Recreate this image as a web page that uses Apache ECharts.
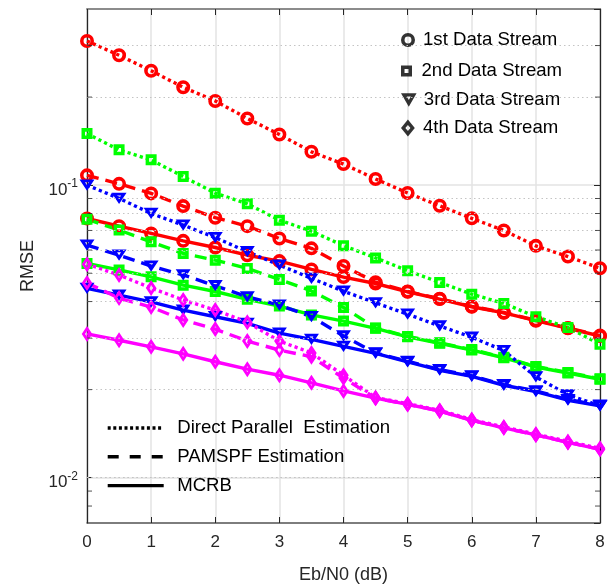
<!DOCTYPE html>
<html><head><meta charset="utf-8">
<script src="https://cdn.jsdelivr.net/npm/echarts@6/dist/echarts.min.js"></script>
<style>html,body{margin:0;padding:0;background:#fff}#c{width:612px;height:587px}</style>
</head><body><div id="c"></div>
<script>
const ebn0 = [0,0.5,1,1.5,2,2.5,3,3.5,4,4.5,5,5.5,6,6.5,7,7.5,8];
const xTicks = [0,1,2,3,4,5,6,7,8];
const yMinorTicks = [0.008,0.009,0.02,0.03,0.04,0.05,0.06,0.07,0.08,0.09,0.2,0.3];
const streamNames = ['1st Data Stream','2nd Data Stream','3rd Data Stream','4th Data Stream'];
const methodNames = ['Direct Parallel  Estimation','PAMSPF Estimation','MCRB'];

const s1Direct = [0.311,0.278,0.246,0.216,0.194,0.169,0.149,0.130,0.118,0.105,0.094,0.085,0.077,0.070,0.062,0.057,0.052];
const s1Pamspf = [0.108,0.101,0.0937,0.0848,0.0774,0.0724,0.0657,0.0608,0.0529,0.0466,0.0433,0.0409,0.0385,0.0367,0.0345,0.0325,0.0306];
const s1Mcrb   = [0.0769,0.0724,0.0684,0.0645,0.0612,0.0576,0.0550,0.0515,0.0485,0.0461,0.0432,0.0408,0.0384,0.0366,0.0344,0.0324,0.0305];
const s2Direct = [0.150,0.132,0.122,0.107,0.0939,0.0863,0.0759,0.0696,0.0621,0.0564,0.0510,0.0465,0.0424,0.0394,0.0355,0.0326,0.0286];
const s2Pamspf = [0.0765,0.0702,0.0640,0.0584,0.0554,0.0519,0.0476,0.0435,0.0382,0.0325,0.0304,0.0289,0.0274,0.0258,0.0240,0.0229,0.0218];
const s2Mcrb   = [0.0540,0.0513,0.0486,0.0455,0.0433,0.0407,0.0386,0.0360,0.0343,0.0324,0.0303,0.0288,0.0273,0.0257,0.0239,0.0228,0.0217];
const s3Direct = [0.100,0.0901,0.0800,0.0730,0.0662,0.0592,0.0533,0.0480,0.0434,0.0396,0.0362,0.0330,0.0302,0.0272,0.0221,0.0192,0.0176];
const s3Pamspf = [0.0624,0.0576,0.0529,0.0493,0.0453,0.0415,0.0389,0.0355,0.0305,0.0267,0.0250,0.0234,0.0223,0.0208,0.0198,0.0185,0.0177];
const s3Mcrb   = [0.0444,0.0421,0.0399,0.0374,0.0355,0.0337,0.0312,0.0297,0.0281,0.0266,0.0249,0.0233,0.0222,0.0207,0.0197,0.0184,0.0176];
const s4Direct = [0.0537,0.0493,0.0445,0.0405,0.0374,0.0340,0.0293,0.0267,0.0224,0.0188,0.0179,0.0170,0.0158,0.0149,0.0141,0.0133,0.0126];
const s4Pamspf = [0.0463,0.0411,0.0383,0.0346,0.0322,0.0293,0.0273,0.0259,0.0219,0.0187,0.0178,0.0169,0.0157,0.0148,0.0140,0.0132,0.0125];
const s4Mcrb   = [0.0310,0.0295,0.0280,0.0265,0.0249,0.0235,0.0224,0.0211,0.0198,0.0187,0.0178,0.0169,0.0157,0.0148,0.0140,0.0132,0.0125];

// hollow marker shapes as ring paths (outer minus inner)
const RING_CIRCLE = 'path://M0,6.5A6.5,6.5 0 1,1 13,6.5A6.5,6.5 0 1,1 0,6.5Z M3.3,6.5A3.2,3.2 0 1,0 9.7,6.5A3.2,3.2 0 1,0 3.3,6.5Z';
const RING_SQUARE = 'path://M0,0L10,0L10,10L0,10Z M3.2,3.2L3.2,6.8L6.8,6.8L6.8,3.2Z';
const RING_TRI = 'path://M0,0L15,0L7.5,13Z M5.54,3.2L7.5,6.59L9.46,3.2Z';
const RING_DIAMOND = 'path://M6.5,0L13,8L6.5,16L0,8Z M6.5,5.08L4.12,8L6.5,10.92L8.88,8Z';

const streams = [
  {color:'#ff0000', symbol:RING_CIRCLE, size:14, data:[s1Direct,s1Pamspf,s1Mcrb]},
  {color:'#00ff00', symbol:RING_SQUARE, size:11, data:[s2Direct,s2Pamspf,s2Mcrb]},
  {color:'#0000ff', symbol:RING_TRI, size:[15,13], data:[s3Direct,s3Pamspf,s3Mcrb]},
  {color:'#ff00ff', symbol:RING_DIAMOND, size:[13,16], data:[s4Direct,s4Pamspf,s4Mcrb]}
];
const dashTypes = [[3.2,3.2],[12,7],'solid'];
const legendDash = [[3,2.6],[11,11],'solid'];
const FONT = '"Liberation Sans", Arial, Helvetica, sans-serif';

const series = [];
series.push({type:'line', data:[], z:1, silent:true, animation:false,
  markLine:{silent:true, symbol:'none', animation:false, label:{show:false},
    lineStyle:{color:'#c4c4c4', type:[1.5,3], width:1},
    emphasis:{disabled:true},
    data: yMinorTicks.map(v=>({yAxis:v}))}});
streams.forEach((st)=>{
  st.data.forEach((arr,m)=>{
    series.push({
      type:'line', z:3, animation:false, silent:true,
      data: ebn0.map((x,i)=>[x, arr[i]]),
      symbol: st.symbol, symbolSize: st.size, symbolKeepAspect:true, showSymbol:true, showAllSymbol:true,
      lineStyle:{color:st.color, width:3.4, type:dashTypes[m], cap:'butt'},
      itemStyle:{color:st.color, borderWidth:0}
    });
  });
});
series.push({type:'scatter', z:5, silent:true, animation:false, symbol:'rect', symbolSize:[5,1], symbolOffset:[2.5,0],
  itemStyle:{color:'#262626'}, data: yMinorTicks.map(v=>[0,v])});
series.push({type:'scatter', z:5, silent:true, animation:false, symbol:'rect', symbolSize:[5,1], symbolOffset:[-2.5,0],
  itemStyle:{color:'#262626'}, data: yMinorTicks.map(v=>[8,v])});
const markerIcons = [RING_CIRCLE, RING_SQUARE, RING_TRI, RING_DIAMOND];
streamNames.forEach((n)=>{
  series.push({type:'scatter', name:n, data:[], symbolKeepAspect:true, itemStyle:{color:'#000', borderWidth:0}});
});
methodNames.forEach((n,m)=>{
  series.push({type:'line', name:n, data:[], symbol:'none', lineStyle:{color:'#000', width:3.4, type:legendDash[m]}});
});

const markerLegendTops = [30, 61, 90, 118];
const markerLegendSizes = [14, 11, 13.5, 17];
const legends = streamNames.map((n,i)=>({
  data:[{name:n, icon:markerIcons[i]}], orient:'vertical', left:401, top:markerLegendTops[i],
  itemWidth:20, itemHeight:markerLegendSizes[i], padding:0, selectedMode:false,
  itemStyle:{color:'#000', borderWidth:0},
  textStyle:{fontFamily:FONT, fontSize:18.6, lineHeight:20, color:'#000'}
}));
legends.push({
  data: methodNames, orient:'vertical', left:106, top:418, itemWidth:56, itemHeight:14, itemGap:8.8,
  padding:0, selectedMode:false, itemStyle:{opacity:0}, lineStyle:{width:3.4},
  textStyle:{fontFamily:FONT, fontSize:18.6, lineHeight:20, color:'#000', padding:[0,0,0,8.5]}
});

const yLabelFmt = v => { const e = Math.log10(v); const r = Math.round(e); if (Math.abs(e-r) > 1e-6) return ''; return '{b|10}{s|' + r + '}'; };

const option = {
  animation:false,
  backgroundColor:'#fff',
  grid:{left:87, right:12, top:9, bottom:64, containLabel:false, outerBoundsMode:'none'},
  legend: legends,
  xAxis:[
    {type:'value', min:xTicks[0], max:xTicks[xTicks.length-1], interval:1, position:'bottom',
      name:'Eb/N0 (dB)', nameLocation:'middle', nameGap:43,
      nameTextStyle:{fontFamily:FONT, fontSize:18, color:'#262626'},
      axisLine:{onZero:false, lineStyle:{color:'#5a5a5a', width:1.5}},
      axisTick:{inside:true, length:6, lineStyle:{color:'#262626'}},
      axisLabel:{fontFamily:FONT, fontSize:17, color:'#262626', margin:11},
      splitLine:{show:true, lineStyle:{color:'#e3e3e3', width:1.5}}},
    {type:'value', min:xTicks[0], max:xTicks[xTicks.length-1], interval:1, position:'top',
      axisLine:{onZero:false, lineStyle:{color:'#8c8c8c', width:2}},
      axisTick:{inside:true, length:6, lineStyle:{color:'#262626'}},
      axisLabel:{show:false}, splitLine:{show:false}}
  ],
  yAxis:[
    {type:'log', logBase:10, min:0.007, max:0.4, position:'left',
      name:'RMSE', nameLocation:'middle', nameGap:47,
      nameTextStyle:{fontFamily:FONT, fontSize:18, color:'#262626'},
      axisLine:{onZero:false, lineStyle:{color:'#262626', width:1.3}},
      axisTick:{inside:true, length:6, lineStyle:{color:'#262626'}},
      axisLabel:{formatter:yLabelFmt, margin:9, showMinLabel:false, showMaxLabel:false, padding:[10,0,0,0],
        rich:{b:{fontFamily:FONT, fontSize:17, color:'#262626', lineHeight:24},
              s:{fontFamily:FONT, fontSize:12, color:'#262626', lineHeight:12, verticalAlign:'top'}}},
      splitLine:{show:true, lineStyle:{color:'#e3e3e3', width:1.5}}},
    {type:'log', logBase:10, min:0.007, max:0.4, position:'right',
      axisLine:{onZero:false, lineStyle:{color:'#262626', width:1.3}},
      axisTick:{inside:true, length:6, lineStyle:{color:'#262626'}},
      axisLabel:{show:false}, splitLine:{show:false}}
  ],
  series: series
};
const chart = echarts.init(document.getElementById('c'), null, {renderer:'canvas'});
chart.setOption(option);
</script></body></html>
